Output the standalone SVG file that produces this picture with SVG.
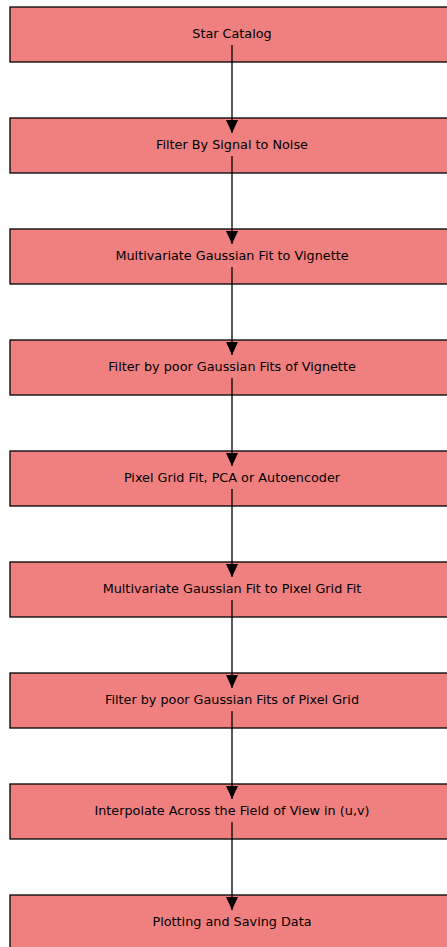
<svg xmlns="http://www.w3.org/2000/svg" width="447" height="947" viewBox="0 0 447 947">
<defs>
<style>
.box{fill:#f08080;stroke:#000;stroke-width:1.3}
.lbl{font-family:"DejaVu Sans",sans-serif;font-size:12.8px;fill:#000;text-anchor:middle}
.edge{stroke:#000;stroke-width:1.3;fill:none}
</style>
<marker id="ah" markerWidth="13" markerHeight="12" refX="13" refY="6" orient="auto" markerUnits="userSpaceOnUse" viewBox="0 0 13 12">
<path d="M0,0 L13,6 L0,12 Z" fill="#000"/>
</marker>
</defs>
<g id="n1"><rect class="box" x="10" y="7" width="444" height="55"/><text class="lbl" x="232" y="37.5">Star Catalog</text></g>
<g id="n2"><rect class="box" x="10" y="118" width="444" height="55"/><text class="lbl" x="232" y="148.5">Filter By Signal to Noise</text></g>
<g id="n3"><rect class="box" x="10" y="229" width="444" height="55"/><text class="lbl" x="232" y="259.5">Multivariate Gaussian Fit to Vignette</text></g>
<g id="n4"><rect class="box" x="10" y="340" width="444" height="55"/><text class="lbl" x="232" y="370.5">Filter by poor Gaussian Fits of Vignette</text></g>
<g id="n5"><rect class="box" x="10" y="451" width="444" height="55"/><text class="lbl" x="232" y="481.5">Pixel Grid Fit, PCA or Autoencoder</text></g>
<g id="n6"><rect class="box" x="10" y="562" width="444" height="55"/><text class="lbl" x="232" y="592.5">Multivariate Gaussian Fit to Pixel Grid Fit</text></g>
<g id="n7"><rect class="box" x="10" y="673" width="444" height="55"/><text class="lbl" x="232" y="703.5">Filter by poor Gaussian Fits of Pixel Grid</text></g>
<g id="n8"><rect class="box" x="10" y="784" width="444" height="55"/><text class="lbl" x="232" y="814.5">Interpolate Across the Field of View in (u,v)</text></g>
<g id="n9"><rect class="box" x="10" y="895" width="444" height="55"/><text class="lbl" x="232" y="925.5">Plotting and Saving Data</text></g>
<g id="edges">
<line class="edge" x1="232" y1="45" x2="232" y2="133" marker-end="url(#ah)"/>
<line class="edge" x1="232" y1="156" x2="232" y2="244" marker-end="url(#ah)"/>
<line class="edge" x1="232" y1="267" x2="232" y2="355" marker-end="url(#ah)"/>
<line class="edge" x1="232" y1="378" x2="232" y2="466" marker-end="url(#ah)"/>
<line class="edge" x1="232" y1="489" x2="232" y2="577" marker-end="url(#ah)"/>
<line class="edge" x1="232" y1="600" x2="232" y2="688" marker-end="url(#ah)"/>
<line class="edge" x1="232" y1="711" x2="232" y2="799" marker-end="url(#ah)"/>
<line class="edge" x1="232" y1="822" x2="232" y2="910" marker-end="url(#ah)"/>
</g>
</svg>
